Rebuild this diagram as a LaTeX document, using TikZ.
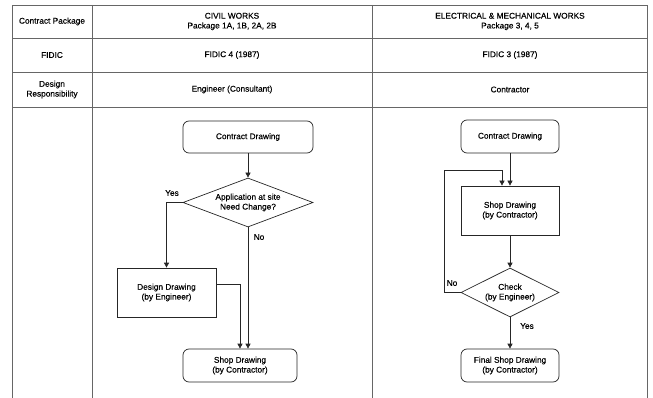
\documentclass[tikz,border=0pt]{standalone}
\usepackage{fontspec}
\setmainfont{Liberation Sans}[FakeBold=0.35]
\usetikzlibrary{arrows.meta,shapes.geometric}
\begin{document}
\begin{tikzpicture}[x=1pt,y=-1pt,
  every node/.style={font=\fontsize{8.3}{9.8}\selectfont, align=center, inner sep=0pt},
  grid/.style={draw=black!60, line width=0.8pt},
  flow/.style={draw=black!85, line width=0.7pt},
  arr/.style={flow, -{Triangle[length=5pt,width=5pt]}},
  rbox/.style={flow, rectangle, rounded corners=6pt, minimum width=#1, fill=white},
  sbox/.style={flow, rectangle, fill=white},
  dia/.style={flow, diamond, inner sep=0pt},
  lbl/.style={font=\fontsize{8.3}{9.8}\selectfont}
]
\useasboundingbox (0,0) rectangle (653,398);
% table grid
\draw[grid] (12,398) -- (12,5) -- (647,5) -- (647,398);
\draw[grid] (92,5) -- (92,398);
\draw[grid] (372,5) -- (372,398);
\draw[grid] (12,38) -- (647,38);
\draw[grid] (12,72) -- (647,72);
\draw[grid] (12,107) -- (647,107);
% table texts
\node (h1) at (52,21.5) {Contract Package};
\node (h2) at (232,21.5) {CIVIL WORKS\\Package 1A, 1B, 2A, 2B};
\node (h3) at (510,21.5) {ELECTRICAL \& MECHANICAL WORKS\\Package 3, 4, 5};
\node (f1) at (52,55) {FIDIC};
\node (f2) at (232,55) {FIDIC 4 (1987)};
\node (f3) at (510,55) {FIDIC 3 (1987)};
\node (d1) at (52,89.5) {Design\\Responsibility};
\node (d2) at (232,89.5) {Engineer (Consultant)};
\node (d3) at (510,89.5) {Contractor};

% left flowchart
\node[rbox=130pt, minimum height=32pt] (cd1) at (248,137) {Contract Drawing};
\node[dia, minimum width=130pt, minimum height=49pt] (q1) at (248,202.5) {};
\node (q1t) at (248,202.5) {Application at site\\Need Change?};
\node[sbox, minimum width=99pt, minimum height=49pt] (dd) at (166.5,292.5) {Design Drawing\\(by Engineer)};
\node[rbox=114pt, minimum height=33pt] (sd1) at (240,365.5) {Shop Drawing\\(by Contractor)};
\draw[arr] (cd1) -- (q1.north);
\draw[arr] (q1.west) -| (dd.north);
\node[lbl] (yes1) at (172,193) {Yes};
\draw[arr] (q1.south) -- (q1.south |- sd1.north);
\node[lbl] (no1) at (259,237) {No};
\coordinate (j1) at (240,284);
\draw[arr] (dd.east |- j1) -- (j1) -- (j1 |- sd1.north);

% right flowchart
\node[rbox=98pt, minimum height=33pt] (cd2) at (510,136.5) {Contract Drawing};
\node[sbox, minimum width=98pt, minimum height=49pt] (sd2) at (510,210.5) {Shop Drawing\\(by Contractor)};
\node[dia, minimum width=98pt, minimum height=49pt] (q2) at (510,292.5) {};
\node (q2t) at (510,292.5) {Check\\(by Engineer)};
\node[rbox=98pt, minimum height=33pt] (fs) at (510,365.5) {Final Shop Drawing\\(by Contractor)};
\draw[arr] (cd2) -- (sd2);
\draw[arr] (sd2) -- (q2.north);
\draw[arr] (q2.south) -- (fs);
\node[lbl] (yes2) at (527,326) {Yes};
\coordinate (lp1) at (444,170);
\coordinate (lp2) at (502,170);
\draw[arr] (q2.west) -- (q2.west -| lp1) -- (lp1) -- (lp2) -- (lp2 |- sd2.north);
\node[lbl] (no2) at (452,283) {No};
\end{tikzpicture}
\end{document}
